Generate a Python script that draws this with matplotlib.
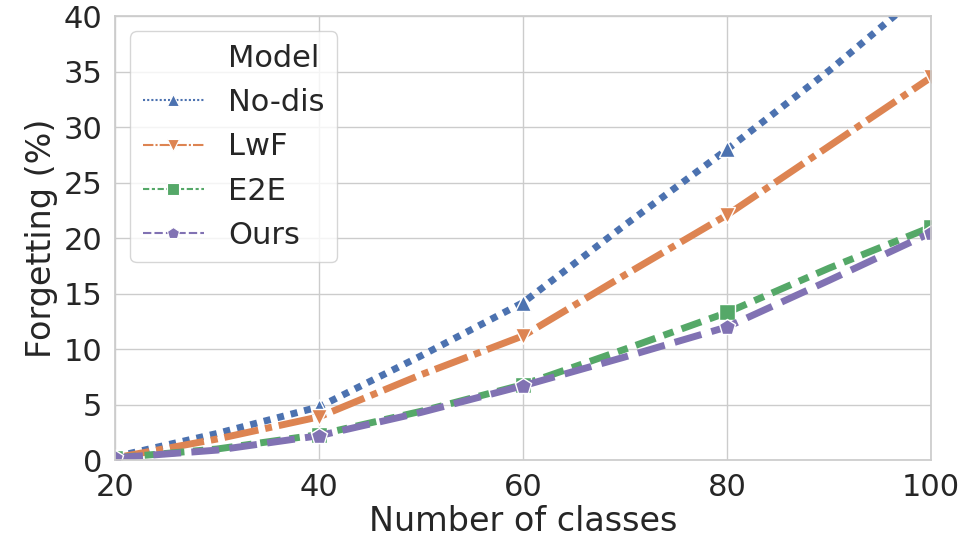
import matplotlib
matplotlib.use("Agg")
import matplotlib.pyplot as plt
import seaborn as sns
from matplotlib.lines import Line2D

sns.set_theme(style="whitegrid", context="notebook", font_scale=2)
plt.rcParams['font.family'] = ['DejaVu Sans']

classes = [20, 30, 40, 50, 60, 70, 80, 90, 100]
no_dis = [0.3, 2.4, 4.8, 9.4, 14.2, 21.2, 28.0, 35.1, 42.8]
lwf = [0.2, 1.9, 3.9, 7.7, 11.2, 16.7, 22.1, 28.3, 34.5]
e2e = [0.2, 1.0, 2.3, 4.4, 6.8, 10.0, 13.3, 17.3, 21.0]
ours = [0.2, 0.9, 2.2, 4.3, 6.7, 9.3, 12.0, 16.2, 20.5]

names = ["No-dis", "LwF", "E2E", "Ours"]
series = [no_dis, lwf, e2e, ours]
pal = sns.color_palette("deep")
colors = [pal[0], pal[1], pal[2], pal[4]]
markers = ["^", "v", "s", "p"]
dashes = [(1, 1), (5, 1, 1, 1), (3, 1.25, 1.5, 1.25), (4, 1.5)]

fig = plt.figure(figsize=(9.6, 5.4), dpi=100)
ax = fig.add_axes([0.12, 0.148, 0.85, 0.822])

for name, ys, c, m, d in zip(names, series, colors, markers, dashes):
    ax.plot(classes, ys, color=c, lw=5, dashes=d, marker=m, markevery=2,
            markersize=12, markeredgecolor="white", markeredgewidth=1)

ax.set_xlim(20, 100)
ax.set_ylim(0, 40)
ax.set_xticks([20, 40, 60, 80, 100])
ax.set_yticks(range(0, 41, 5))
ax.set_xlabel("Number of classes", fontsize=24, labelpad=2)
ax.set_ylabel("Forgetting (%)", fontsize=24)
ax.tick_params(labelsize=22)

handles = [Line2D([], [], linestyle="none", marker=None)]
labels = ["Model"]
for name, c, m, d in zip(names, colors, markers, dashes):
    handles.append(Line2D([], [], color=c, lw=1.5, dashes=d, marker=m,
                          markersize=9, markeredgecolor="white", markeredgewidth=0.8))
    labels.append(name)
ax.legend(handles, labels, loc="upper left", fontsize=22, handlelength=2.0,
          labelspacing=0.5, borderaxespad=0.5)

fig.savefig("out.png", dpi=100)
